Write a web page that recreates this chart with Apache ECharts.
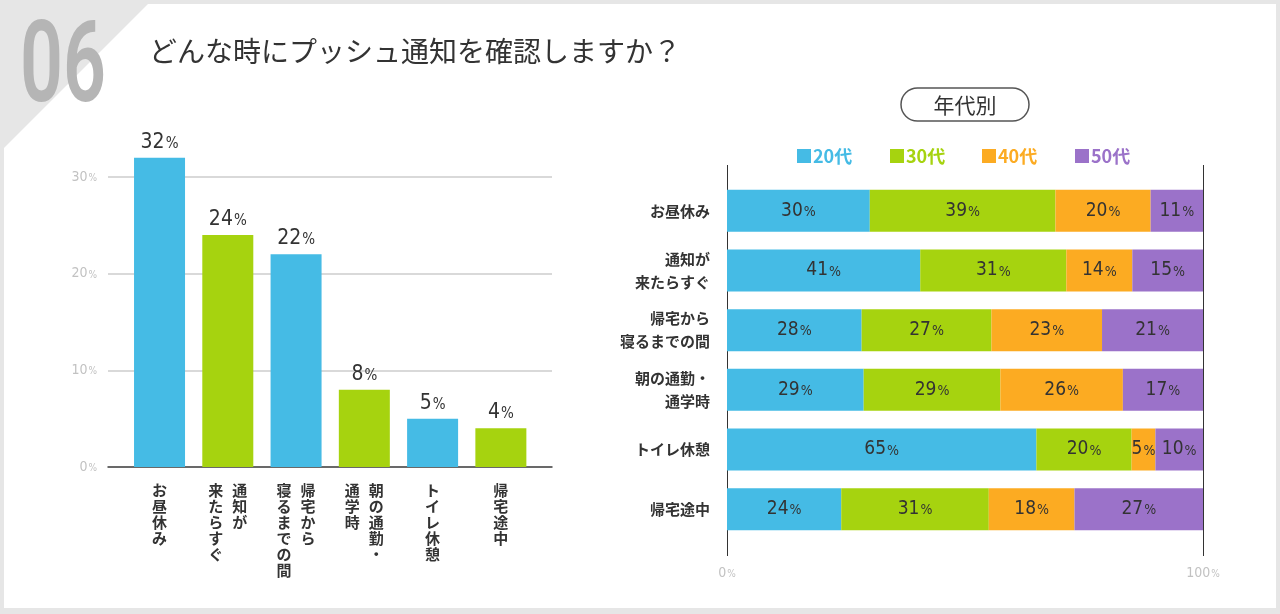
<!DOCTYPE html>
<html><head><meta charset="utf-8">
<script src="https://cdn.jsdelivr.net/npm/echarts@6/dist/echarts.min.js"></script>
<style>html,body{margin:0;padding:0;background:#e6e6e6}#c{width:1280px;height:614px}</style>
</head><body><div id="c"></div>
<script>
// ---- data ----
const chartNumber = '06';
const chartTitle = 'どんな時にプッシュ通知を確認しますか？';
const panelTitle = '年代別';
const categories = ['お昼休み', '通知が\n来たらすぐ', '帰宅から\n寝るまでの間', '朝の通勤・\n通学時', 'トイレ休憩', '帰宅途中'];
const totalValues = [32, 24, 22, 8, 5, 4];
const totalTicks = [0, 10, 20, 30];
const ageGroups = ['20代', '30代', '40代', '50代'];
const age20 = [30, 41, 28, 29, 65, 24];
const age30 = [39, 31, 27, 29, 20, 31];
const age40 = [20, 14, 23, 26, 5, 18];
const age50 = [11, 15, 21, 17, 10, 27];
const shareTicks = [0, 100];

// ---- styles ----
const C_BLUE = '#45bbe5', C_GREEN = '#a6d30f', C_ORANGE = '#fcab22', C_PURPLE = '#9b72c9';
const ageColors = [C_BLUE, C_GREEN, C_ORANGE, C_PURPLE];
const JP = '"Noto Sans CJK JP", "Noto Sans", sans-serif';
const NUM = '"Liberation Sans Narrow", "DejaVu Sans Condensed", Roboto, sans-serif';

const ageSeries = [age20, age30, age40, age50];
const rowSums = categories.map((_, i) => ageSeries.reduce((s, a) => s + a[i], 0));

function pctRich(n, p, color) {
  return {
    n: { fontFamily: NUM, fontSize: n, color: color },
    p: { fontFamily: NUM, fontSize: p, color: color, padding: [3, 0, 0, 1] }
  };
}

function verticalLabel(value) {
  const cols = value.split('\n').reverse();
  const maxLen = Math.max(...cols.map(c => c.length));
  const lines = [];
  for (let i = 0; i < maxLen; i++) {
    lines.push(cols.map(c => '{c|' + (c[i] || '　') + '}').join(''));
  }
  return lines.join('\n');
}

const chart = echarts.init(document.getElementById('c'), null, { renderer: 'canvas' });

const option = {
  backgroundColor: '#e6e6e6',
  animation: false,
  title: {
    text: chartTitle, left: 144, top: 32,
    textStyle: { fontFamily: JP, fontSize: 28, fontWeight: 'normal', color: '#333' }
  },
  graphic: [
    { type: 'polygon', z: -10, shape: { points: [[148, 4], [1276, 4], [1276, 608], [4, 608], [4, 148]] }, style: { fill: '#ffffff' } },
    { type: 'text', x: 20, y: 72, scaleX: 0.66, z: -5,
      style: { text: chartNumber, font: '600 114px Roboto, sans-serif', fill: '#b5b5b5', textVerticalAlign: 'middle' } },
    { type: 'rect', shape: { x: 901, y: 88, width: 128, height: 33, r: 16.5 }, style: { fill: '#fff', stroke: '#555', lineWidth: 1.5 } },
    { type: 'text', x: 965, y: 105, style: { text: panelTitle, font: '21px ' + JP, fill: '#333', textAlign: 'center', textVerticalAlign: 'middle' } }
  ],
  legend: ageGroups.map((g, i) => ({
    left: [792, 885, 977, 1070][i], top: 142,
    data: [g], icon: 'rect', itemWidth: 14, itemHeight: 14, selectedMode: false,
    textStyle: { color: ageColors[i], fontSize: 18, fontWeight: 'bold', fontFamily: JP, padding: [0, 0, 0, -3] }
  })),
  grid: [
    { left: 108, top: 177, width: 444, height: 290 },
    { left: 125.4, top: 177, width: 409.6, height: 290 },
    { left: 727, top: 165, width: 476, height: 391 },
    { left: 727, top: 181, width: 476, height: 358 }
  ],
  xAxis: [
    { gridIndex: 0, type: 'value', min: 0, max: 1, axisLine: { show: true, lineStyle: { color: '#444', width: 1.5 } },
      axisTick: { show: false }, axisLabel: { show: false }, splitLine: { show: false } },
    { gridIndex: 1, type: 'category', data: categories, axisLine: { show: false }, axisTick: { show: false },
      axisLabel: { interval: 0, margin: 15, formatter: verticalLabel,
        rich: { c: { width: 24, align: 'center', fontSize: 15, lineHeight: 16, fontWeight: 'bold', fontFamily: JP, color: '#333' } } } },
    { gridIndex: 2, type: 'value', min: shareTicks[0], max: shareTicks[1], interval: 100,
      axisLine: { show: false }, axisTick: { show: false },
      splitLine: { show: true, lineStyle: { color: '#333', width: 1 } },
      axisLabel: { margin: 10, formatter: v => '{n|' + v + '}{p|%}', rich: pctRich(14, 10, '#c2c2c2') } },
    { gridIndex: 3, type: 'value', min: 0, max: 100, show: false }
  ],
  yAxis: [
    { gridIndex: 0, type: 'value', min: totalTicks[0], max: totalTicks[totalTicks.length - 1], interval: 10,
      axisLine: { show: false }, axisTick: { show: false },
      splitLine: { show: true, lineStyle: { color: '#cccccc', width: 1.5 } },
      axisLabel: { margin: 11, formatter: v => '{n|' + v + '}{p|%}', rich: pctRich(14, 10, '#c2c2c2') } },
    { gridIndex: 1, type: 'value', min: 0, max: 30, show: false },
    { gridIndex: 2, type: 'value', min: 0, max: 1, show: false },
    { gridIndex: 3, type: 'category', data: categories, inverse: true,
      axisLine: { show: false }, axisTick: { show: false },
      axisLabel: { margin: 17, fontSize: 15, lineHeight: 23, fontWeight: 'bold', fontFamily: JP, color: '#333' } }
  ],
  series: [
    { type: 'bar', xAxisIndex: 1, yAxisIndex: 1, data: totalValues, barWidth: 51, clip: false,
      itemStyle: { color: p => (p.dataIndex % 2 ? C_GREEN : C_BLUE) },
      label: { show: true, position: 'top', distance: 5, formatter: p => '{n|' + p.value + '}{p|%}', rich: pctRich(21, 15, '#333') } }
  ].concat(ageSeries.map((arr, k) => ({
    name: ageGroups[k], type: 'bar', stack: 'age', xAxisIndex: 3, yAxisIndex: 3, barWidth: 42,
    itemStyle: { color: ageColors[k] },
    data: arr.map((v, i) => ({ value: v * 100 / rowSums[i], raw: v })),
    label: { show: true, position: 'inside', formatter: p => '{n|' + p.data.raw + '}{p|%}', rich: pctRich(19, 14, '#333') }
  })))
};
chart.setOption(option);
</script></body></html>
